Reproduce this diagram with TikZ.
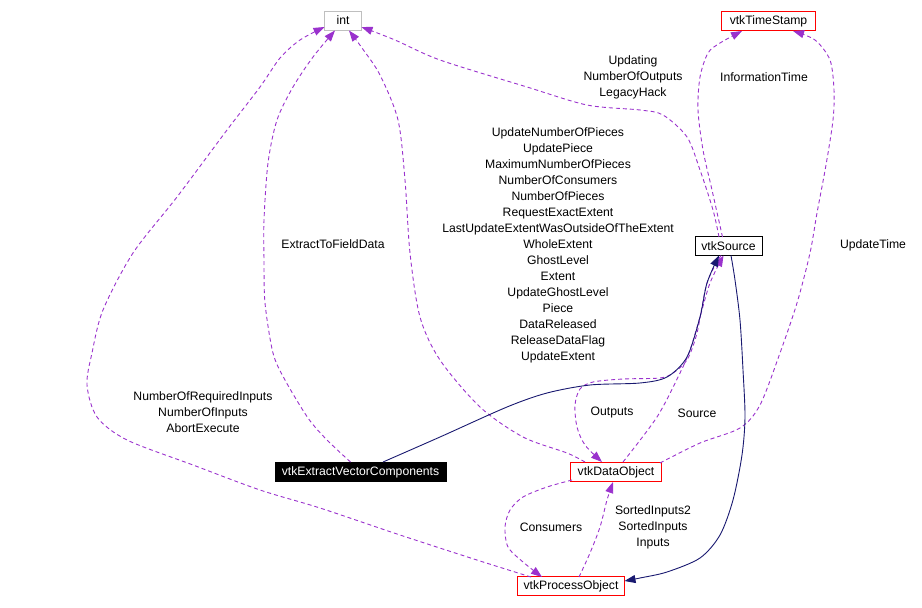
\documentclass[tikz,border=0pt]{standalone}
\usepackage{fontspec}
\setmainfont{Liberation Sans}
\usetikzlibrary{arrows.meta}
\definecolor{edgepurple}{HTML}{9A32CD}
\definecolor{edgenavy}{HTML}{191970}
\definecolor{intgrey}{HTML}{BFBFBF}
\begin{document}
\begin{tikzpicture}[x=1pt,y=-1pt,
 lbl/.style={font=\fontsize{12.2}{16}\selectfont, align=center, inner sep=0pt},
 cls/.style={lbl, draw, line width=1pt, minimum height=19pt, inner sep=0pt},
 redcls/.style={cls, draw=red},
 dep/.style={draw=edgepurple, line width=0.9pt, dash pattern=on 4pt off 3pt, -{Triangle[length=11pt,width=8pt,fill=edgepurple]}},
 inh/.style={draw=edgenavy, line width=0.9pt, -{Triangle[length=11pt,width=8pt,fill=edgenavy]}},
]
\useasboundingbox (0,0) rectangle (922,608);

% classes
\node[cls, draw=intgrey, minimum width=37pt] (int) at (343,20.5) {int};
\node[redcls, minimum width=94pt] (ts) at (768.5,21) {vtkTimeStamp};
\node[cls, draw=black, minimum width=67pt] (src) at (728.5,246) {vtkSource};
\node[cls, draw=black, fill=black, text=white, minimum width=171pt] (evc) at (360.5,472) {vtkExtractVectorComponents};
\node[redcls, minimum width=91pt] (dobj) at (616,472) {vtkDataObject};
\node[redcls, minimum width=107pt] (pobj) at (571,586) {vtkProcessObject};

% E1 vtkProcessObject -> int
\draw[dep] plot[smooth] coordinates {([shift={(-40,-9)}]pobj.center) (480,561) (400,535) (320,508) (260,490) (193,465) (127,440) (97,417) (87,385) (92,353) (103,310) (133,253) (177,197) (227,130) (260,87) (280,58) (300,40) ([shift={(-18.5,6.5)}]int.center)};
% E2 vtkExtractVectorComponents -> int
\draw[dep] plot[smooth] coordinates {([shift={(-10,-10)}]evc.center) (327,440) (308,418) (285,380) (273,353) (265,303) (264,260) (264,220) (268,163) (277,120) (293,87) (313,57) ([shift={(-8,10)}]int.center)};
% E3 vtkDataObject -> int
\draw[dep] plot[smooth] coordinates {([shift={(-31,-10)}]dobj.center) (567,453) (523,437) (480,407) (440,360) (420,317) (410,253) (405,180) (398,120) (380,75) (362,48) ([shift={(6,10)}]int.center)};
% E4 vtkSource -> int
\draw[dep] plot[smooth] coordinates {([shift={(-9.5,-9)}]src.center) (713,210) (700,170) (687,137) (663,115) (640,110) (587,105) (527,87) (440,60) (395,40) ([shift={(18.5,6.5)}]int.center)};
% E5 vtkSource -> vtkTimeStamp
\draw[dep] plot[smooth] coordinates {([shift={(-6,-9)}]src.center) (712,190) (703,150) (698,110) (700,77) (708,53) (720,43) ([shift={(-26.5,10)}]ts.center)};
% E6 vtkDataObject -> vtkTimeStamp
\draw[dep] plot[smooth] coordinates {([shift={(44,-9)}]dobj.center) (700,443) (740,428) (760,405) (780,353) (797,303) (810,253) (817,213) (826,165) (833,120) (834,90) (830,60) (815,40) ([shift={(24.5,10)}]ts.center)};
% E7 vtkDataObject -> vtkSource
\draw[dep] plot[smooth] coordinates {([shift={(7,-10)}]dobj.center) (657,417) (680,373) (690,350) (700,317) (710,283) ([shift={(-5,9.5)}]src.center)};
% E8 vtkSource -> vtkDataObject
\draw[dep] plot[smooth] coordinates {([shift={(-7.5,9.5)}]src.center) (707,283) (697,333) (687,360) (673,373) (660,378) (623,379) (593,382) (580,389) (575,405) (577,427) (585,445) ([shift={(-14,-10)}]dobj.center)};
% E9 vtkExtractVectorComponents -> vtkSource (inheritance)
\draw[inh] plot[smooth] coordinates {([shift={(22.5,-10)}]evc.center) (440,437) (507,407) (547,393) (590,385) (640,383) (667,377) (687,357) (700,317) (707,283) ([shift={(-9.5,9.5)}]src.center)};
% E10 vtkSource -> vtkProcessObject (inheritance)
\draw[inh] plot[smooth] coordinates {([shift={(2.5,9.5)}]src.center) (735,280) (740,320) (743,370) (745,417) (742,455) (733,500) (720,535) (700,558) (667,572) (640,578) ([shift={(53.5,-5)}]pobj.center)};
% E11 vtkProcessObject -> vtkDataObject
\draw[dep] plot[smooth] coordinates {([shift={(8,-9)}]pobj.center) (590,553) (600,527) (607,500) ([shift={(-3,10)}]dobj.center)};
% E12 vtkDataObject -> vtkProcessObject
\draw[dep] plot[smooth] coordinates {([shift={(-44,8)}]dobj.center) (547,487) (523,497) (510,510) (505,527) (508,547) (523,562) ([shift={(-29,-9)}]pobj.center)};

% labels
\node[lbl] (l1) at (203,412) {NumberOfRequiredInputs\\NumberOfInputs\\AbortExecute};
\node[lbl] (l2) at (333,244) {ExtractToFieldData};
\node[lbl] (l3) at (633,77) {Updating\\NumberOfOutputs\\LegacyHack};
\node[lbl] (l4) at (764,77) {InformationTime};
\node[lbl] (l5) at (558,245) {UpdateNumberOfPieces\\UpdatePiece\\MaximumNumberOfPieces\\NumberOfConsumers\\NumberOfPieces\\RequestExactExtent\\LastUpdateExtentWasOutsideOfTheExtent\\WholeExtent\\GhostLevel\\Extent\\UpdateGhostLevel\\Piece\\DataReleased\\ReleaseDataFlag\\UpdateExtent};
\node[lbl] (l6) at (873,245) {UpdateTime};
\node[lbl] (l7) at (612,413) {Outputs};
\node[lbl] (l8) at (697,413) {Source};
\node[lbl] (l9) at (653,527) {SortedInputs2\\SortedInputs\\Inputs};
\node[lbl] (l10) at (551,527) {Consumers};
\end{tikzpicture}
\end{document}
